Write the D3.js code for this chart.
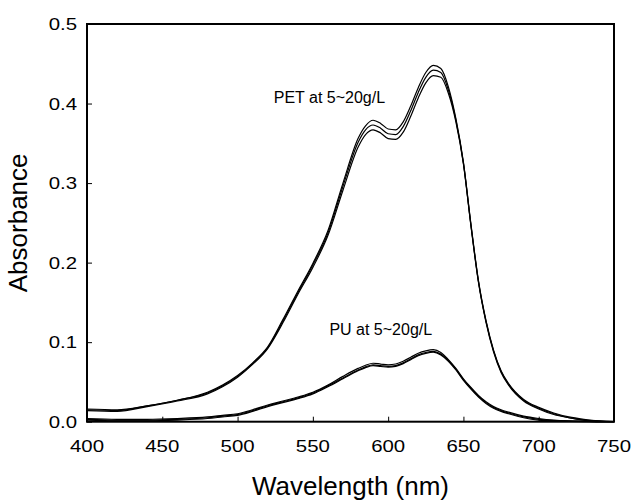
<!DOCTYPE html>
<html>
<head>
<meta charset="utf-8">
<script src="https://cdn.jsdelivr.net/npm/d3@7"></script>
<style>
  html, body { margin: 0; padding: 0; background: #fff; }
  svg { display: block; font-family: "Liberation Sans", Arial, sans-serif; }
</style>
</head>
<body>
<svg id="chart" width="636" height="501"></svg>
<script>
const wavelength = [400,420,440,460,480,490,500,510,520,530,540,550,560,570,580,585,590,595,600,605,610,615,620,625,630,635,640,645,650,655,660,665,670,675,680,690,700,710,720,730,740,750];

const petHigh = [0.016,0.015,0.020,0.027,0.037,0.046,0.058,0.074,0.094,0.128,0.164,0.199,0.240,0.300,0.356,0.372,0.379,0.375,0.368,0.367,0.377,0.397,0.420,0.439,0.448,0.444,0.421,0.381,0.326,0.248,0.177,0.127,0.090,0.064,0.048,0.028,0.018,0.011,0.006,0.003,0.001,0.000];
const petMid  = [0.015,0.014,0.020,0.027,0.036,0.045,0.057,0.073,0.093,0.126,0.162,0.197,0.237,0.296,0.351,0.367,0.373,0.369,0.362,0.361,0.371,0.391,0.414,0.433,0.442,0.439,0.417,0.379,0.325,0.247,0.176,0.126,0.089,0.063,0.047,0.027,0.017,0.010,0.005,0.002,0.001,0.000];
const petLow  = [0.014,0.013,0.019,0.026,0.035,0.044,0.056,0.072,0.092,0.124,0.160,0.194,0.234,0.291,0.345,0.361,0.367,0.363,0.356,0.355,0.364,0.384,0.407,0.426,0.435,0.433,0.413,0.377,0.324,0.246,0.175,0.125,0.088,0.062,0.046,0.026,0.016,0.009,0.005,0.002,0.000,0.000];

const puHigh = [0.004,0.003,0.003,0.004,0.006,0.008,0.010,0.015,0.021,0.026,0.031,0.037,0.046,0.057,0.067,0.071,0.0735,0.0725,0.0715,0.0725,0.076,0.081,0.086,0.089,0.0905,0.087,0.078,0.067,0.054,0.043,0.033,0.025,0.019,0.015,0.012,0.007,0.004,0.002,0.001,0.0005,0.000,0.000];
const puMid  = [0.003,0.002,0.002,0.003,0.005,0.007,0.009,0.014,0.020,0.025,0.030,0.036,0.045,0.055,0.065,0.069,0.0715,0.0705,0.0695,0.0705,0.074,0.079,0.084,0.087,0.0885,0.085,0.077,0.066,0.053,0.042,0.032,0.024,0.018,0.014,0.011,0.006,0.003,0.0015,0.0008,0.0003,0.000,0.000];
const puLow  = [0.002,0.001,0.001,0.002,0.004,0.006,0.008,0.013,0.019,0.024,0.029,0.035,0.044,0.054,0.064,0.068,0.0705,0.0695,0.0685,0.0695,0.073,0.078,0.083,0.086,0.0875,0.084,0.076,0.065,0.052,0.041,0.031,0.023,0.017,0.013,0.010,0.005,0.002,0.001,0.0005,0.0002,0.000,0.000];

const xTicks = [400,450,500,550,600,650,700,750];
const yTicks = [0.0,0.1,0.2,0.3,0.4,0.5];
const labels = [
  {text: "PET at 5~20g/L", wl: 524, v: 0.401},
  {text: "PU at 5~20g/L", wl: 561, v: 0.109}
];
const xTitle = "Wavelength (nm)";
const yTitle = "Absorbance";

const svg = d3.select("#chart");
const m = {left: 87, top: 24, right: 614, bottom: 421.7};
const x = d3.scaleLinear().domain([400, 750]).range([m.left, m.right]);
const y = d3.scaleLinear().domain([0, 0.5]).range([m.bottom, m.top]);

const line = d3.line()
  .x(d => x(d[0]))
  .y(d => y(d[1]))
  .curve(d3.curveMonotoneX);

const series = [petHigh, petMid, petLow, puHigh, puMid, puLow];
const g = svg.append("g");
series.forEach(s => {
  g.append("path")
    .datum(wavelength.map((w, i) => [w, s[i]]))
    .attr("d", line)
    .attr("fill", "none")
    .attr("stroke", "#000")
    .attr("stroke-width", 1.2);
});

// Axes with inward ticks
const xAxis = d3.axisBottom(x).tickValues(xTicks).tickSize(-5).tickFormat("");
const yAxis = d3.axisLeft(y).tickValues(yTicks).tickSize(-5).tickFormat("");
svg.append("g").attr("transform", `translate(0,${m.bottom})`).call(xAxis)
  .call(a => a.select(".domain").remove())
  .selectAll("line").attr("stroke", "#000").attr("stroke-width", 1);
svg.append("g").attr("transform", `translate(${m.left},0)`).call(yAxis)
  .call(a => a.select(".domain").remove())
  .selectAll("line").attr("stroke", "#000").attr("stroke-width", 1);

// frame
svg.append("rect")
  .attr("x", m.left).attr("y", m.top)
  .attr("width", m.right - m.left).attr("height", m.bottom - m.top)
  .attr("fill", "none").attr("stroke", "#000").attr("stroke-width", 2);

// tick labels (slightly widened to match reference glyphs)
xTicks.forEach(t => {
  svg.append("text")
    .attr("transform", `translate(${x(t)},452) scale(1.2,1)`)
    .attr("text-anchor", "middle")
    .attr("font-size", 17)
    .attr("fill", "#000")
    .text(t);
});
yTicks.forEach(t => {
  svg.append("text")
    .attr("transform", `translate(77,${y(t) + 6}) scale(1.2,1)`)
    .attr("text-anchor", "end")
    .attr("font-size", 17)
    .attr("fill", "#000")
    .text(d3.format(".1f")(t));
});

// annotations
labels.forEach(l => {
  svg.append("text")
    .attr("x", x(l.wl)).attr("y", y(l.v))
    .attr("font-size", 16)
    .attr("fill", "#000")
    .text(l.text);
});

// titles
svg.append("text")
  .attr("x", (m.left + m.right) / 2).attr("y", 495)
  .attr("text-anchor", "middle")
  .attr("font-size", 26)
  .attr("fill", "#000")
  .text(xTitle);
svg.append("text")
  .attr("transform", `translate(27,${(m.top + m.bottom) / 2}) rotate(-90)`)
  .attr("text-anchor", "middle")
  .attr("font-size", 26)
  .attr("fill", "#000")
  .text(yTitle);
</script>
</body>
</html>
